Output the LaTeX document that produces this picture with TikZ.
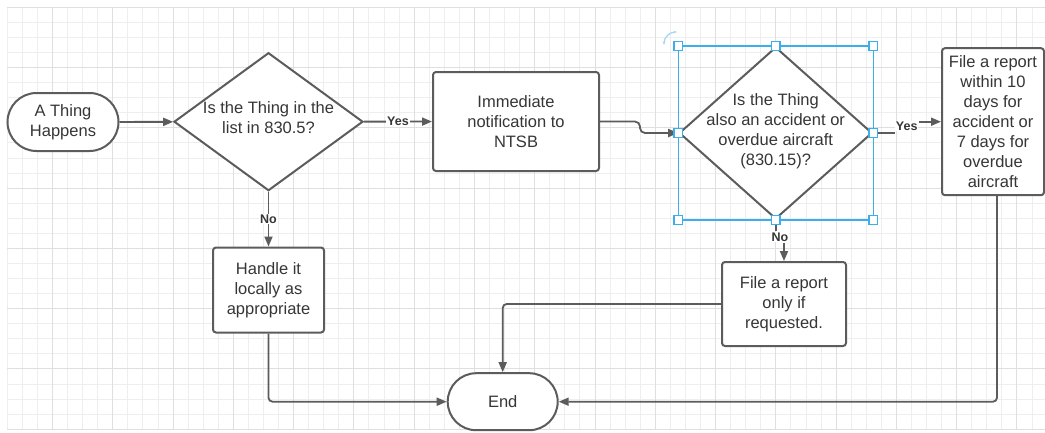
\documentclass[tikz,border=0pt]{standalone}
\usepackage{fontspec}
\setmainfont{Liberation Sans}
\usetikzlibrary{shapes.geometric,shapes.misc,arrows.meta,positioning}
\definecolor{linegray}{HTML}{5C5C5C}
\definecolor{textgray}{HTML}{363636}
\definecolor{gridminor}{HTML}{EEEEEE}
\definecolor{gridmajor}{HTML}{DFDFDF}
\definecolor{selblue}{HTML}{3DAEE9}
\definecolor{rotblue}{HTML}{A9D6F2}
\begin{document}
\begin{tikzpicture}[x=1pt,y=-1pt,
  every node/.style={text=textgray,align=center,font=\fontsize{16.5}{20}\selectfont},
  box/.style={draw=linegray,line width=2pt,rectangle,rounded corners=3pt,inner sep=0pt,fill=white},
  term/.style={draw=linegray,line width=2pt,rounded rectangle,inner sep=0pt,fill=white},
  decision/.style={draw=linegray,line width=2pt,diamond,inner sep=0pt,fill=white},
  flow/.style={draw=linegray,line width=1.8pt,-{Triangle[length=10pt,width=8pt]}},
  lab/.style={font=\bfseries\fontsize{12.5}{14}\selectfont,fill=white,inner sep=1pt},
  handle/.style={draw=selblue,fill=white,line width=1.2pt,rectangle,minimum size=8.5pt,inner sep=0pt}]
\useasboundingbox (0,0) rectangle (1045,432);
\fill[white] (0,0) rectangle (1045,432);
\foreach \i in {0,...,68} \draw[gridminor,line width=1pt] ({7.3+15.07*\i},7.3) -- ({7.3+15.07*\i},429.3);
\foreach \j in {0,...,28} \draw[gridminor,line width=1pt] (7.3,{7.3+15.07*\j}) -- (1045,{7.3+15.07*\j});
\foreach \i in {3,7,...,67} \draw[gridmajor,line width=1pt] ({7.3+15.07*\i},7.3) -- ({7.3+15.07*\i},429.3);
\foreach \j in {0,4,...,28} \draw[gridmajor,line width=1pt] (7.3,{7.3+15.07*\j}) -- (1045,{7.3+15.07*\j});

\node[term,minimum width=111pt,minimum height=58pt] (start) at (63,122) {A Thing\\Happens};
\node[decision,minimum width=189pt,minimum height=138pt] (q1) at (268.5,121.7) {};
\node (q1txt) at (268.5,118) {Is the Thing in the\\list in 830.5?};
\node[box,minimum width=166pt,minimum height=99pt] (notify) at (516,121.5) {Immediate\\notification to\\NTSB};
\node[decision,minimum width=193pt,minimum height=172pt] (q2) at (775.7,133) {};
\node (q2txt) at (775.7,131.7) {Is the Thing\\also an accident or\\overdue aircraft\\(830.15)?};
\node[box,minimum width=102pt,minimum height=147pt] (file10) at (993,121.7) {File a report\\within 10\\days for\\accident or\\7 days for\\overdue\\aircraft};
\node[box,minimum width=111pt,minimum height=85pt] (handle) at (268.5,290) {Handle it\\locally as\\appropriate};
\node[box,minimum width=124pt,minimum height=84pt] (fileonly) at (784,304) {File a report\\only if\\requested.};
\node[term,minimum width=110pt,minimum height=57pt] (end) at (502.7,401.7) {End};

\draw[flow] (start) -- (q1);
\draw[flow] (q1) -- node[lab]{Yes} (notify);
\draw[flow,rounded corners=5pt] (notify.east) -- ++(40,0) |- (q2.west);
\node[lab] (yes2) at (906.7,126) {Yes};
\draw[flow] (q2.east) -- (q2.east -| yes2.west) (yes2.east |- file10.west) -- (file10.west);
\draw[flow] (q1) -- node[lab]{No} (handle);
\node[lab] (no2) at (780,237) {No};
\draw[flow] (q2.south) -- (q2.south |- no2.north) (no2.south -| fileonly.north) -- (fileonly.north);
\draw[flow,rounded corners=4pt] (fileonly.west) -| (end.north);
\draw[flow,rounded corners=4pt] (handle.south) |- (end.west);
\draw[flow,rounded corners=4pt] ([xshift=4pt]file10.south) |- (end.east);

\draw[selblue,line width=1.2pt] (q2.west |- q2.north) rectangle (q2.east |- q2.south);
\foreach \px/\py in {west/north,center/north,east/north,east/center,east/south,center/south,west/south,west/center}
  \node[handle] (h\px\py) at (q2.\px |- q2.\py) {};
\draw[rotblue,line width=1.3pt,{Stealth[length=3.5pt]}-{Stealth[length=3.5pt]}] (664,45) .. controls (664,37) and (670,32) .. (677,32);
\end{tikzpicture}
\end{document}
